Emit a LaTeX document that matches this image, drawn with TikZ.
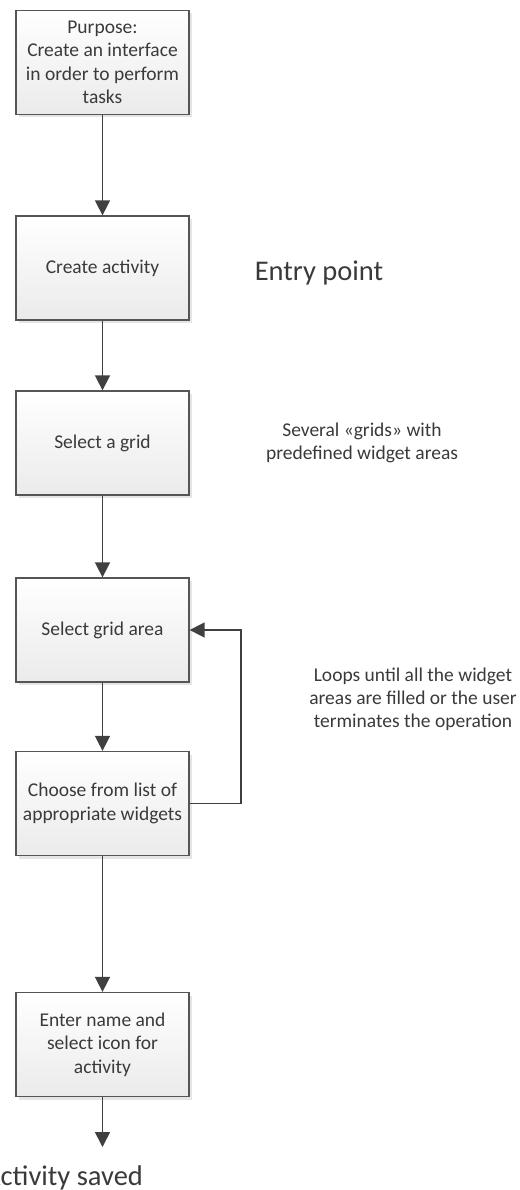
\documentclass[tikz,border=0pt]{standalone}
\usepackage{fontspec}
\setmainfont{Carlito}
\usetikzlibrary{arrows.meta,shadows}
\definecolor{boxline}{HTML}{555555}
\definecolor{txt}{HTML}{3A3A3A}
\definecolor{arr}{HTML}{404040}
\tikzset{
  stepbox/.style={draw=boxline, line width=1.3pt, top color=white, bottom color=gray!16,
    minimum width=173pt, minimum height=104pt, inner sep=2pt, align=center,
    text=txt, font=\fontsize{19.5}{23.5}\selectfont,
    drop shadow={shadow xshift=3pt, shadow yshift=-3pt, fill=gray!45, opacity=0.45}},
  note/.style={text=txt, align=center, inner sep=0pt, font=\fontsize{19.5}{23}\selectfont},
  bignote/.style={text=txt, inner sep=0pt, font=\fontsize{28.5}{32}\selectfont},
  flow/.style={draw=arr, line width=1.6pt, -{Triangle[length=15pt,width=15pt]}}
}
\begin{document}
\begin{tikzpicture}[x=1pt,y=-1pt]
\useasboundingbox (0,0) rectangle (519,1190);
\fill[white] (0,0) rectangle (519,1190);
\node[stepbox] (b1) at (102.5,62.5) {Purpose:\\Create an interface\\in order to perform\\tasks};
\node[stepbox] (b2) at (102.5,268) {Create activity};
\node[stepbox] (b3) at (102.5,443) {Select a grid};
\node[stepbox] (b4) at (102.5,630) {Select grid area};
\node[stepbox] (b5) at (102.5,803.5) {Choose from list of\\appropriate widgets};
\node[stepbox] (b6) at (102.5,1044.5) {Enter name and\\select icon for\\activity};
\node[bignote] (entry) at (319,273) {Entry point};
\node[note] (grids) at (362,443) {Several «grids» with\\predefined widget areas};
\node[note] (loops) at (413,699) {Loops until all the widget\\areas are filled or the user\\terminates the operation};
\node[bignote, anchor=base] (saved) at (63.5,1185) {Activity saved};
\coordinate (endpt) at (102.5,1147);
\coordinate (loopx) at (241,0);
\draw[flow] (b1) -- (b2);
\draw[flow] (b2) -- (b3);
\draw[flow] (b3) -- (b4);
\draw[flow] (b4) -- (b5);
\draw[flow] (b5) -- (b6);
\draw[flow] (b6) -- (endpt);
\draw[flow] (b5.east) -- (b5.east -| loopx) -- (b4.east -| loopx) -- (b4.east);
\end{tikzpicture}
\end{document}
